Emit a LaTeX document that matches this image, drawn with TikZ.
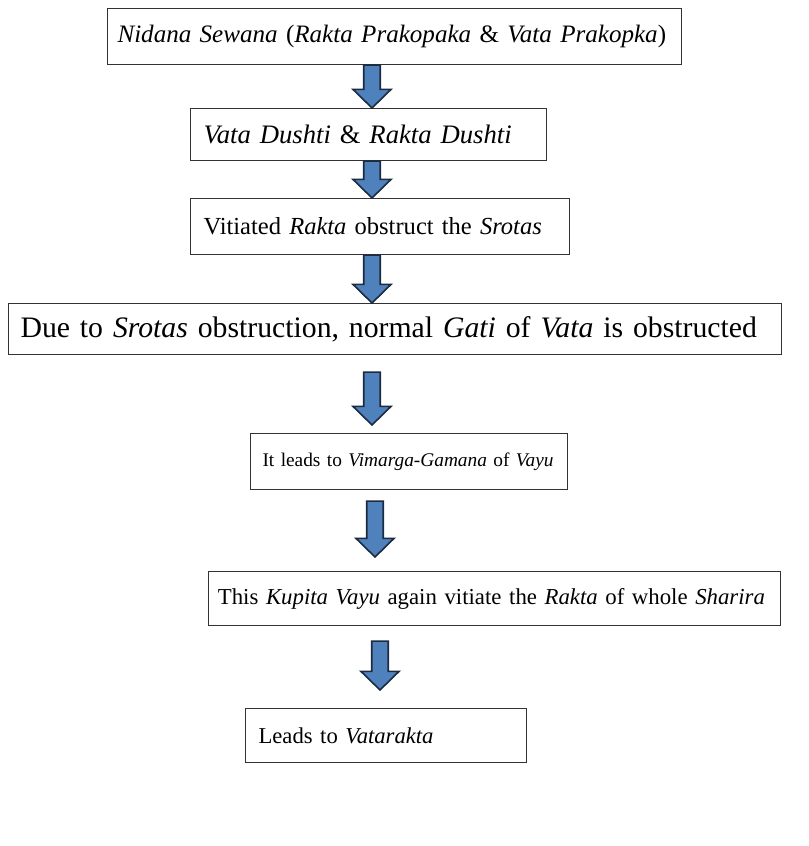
\documentclass[tikz,border=0pt]{standalone}
\usepackage{fontspec}
\setmainfont{Liberation Serif}
\usetikzlibrary{calc}
\definecolor{arrfill}{HTML}{4F81BD}
\definecolor{arrline}{HTML}{1C2B40}
\tikzset{
  stepbox/.style={draw=black!80, line width=0.8pt, anchor=north west, align=left, inner ysep=0pt},
  fs/.style={font=\fontsize{#1}{#1}\selectfont},
  blockarr/.style={fill=arrfill, draw=arrline, line width=1.2pt, line join=miter,
    to path={let \p1=(\tikztostart), \p2=(\tikztotarget) in
      (\x1-6.2pt,\y1) -- (\x1+6.2pt,\y1) -- (\x1+6.2pt,\y2+14pt) -- (\x1+14.3pt,\y2+14pt)
      -- (\x1,\y2) -- (\x1-14.3pt,\y2+14pt) -- (\x1-6.2pt,\y2+14pt) -- cycle}}
}
\begin{document}
\begin{tikzpicture}[x=0.75pt,y=-0.75pt]
  \useasboundingbox (0,0) rectangle (808,846);
  \coordinate (axis) at (372,0);
  \coordinate (axisb) at (375,0);
  \coordinate (axisc) at (380,0);
  \node[stepbox, fs=18.8, inner xsep=7.5pt, text width=415.5pt, minimum height=42pt] (nidana) at (107,8)
    {\textit{Nidana Sewana} (\textit{Rakta Prakopaka} \& \textit{Vata Prakopka})};
  \node[stepbox, fs=20, inner xsep=9.75pt, text width=247.5pt, minimum height=39pt] (dushti) at (190,108)
    {\textit{Vata Dushti} \& \textit{Rakta Dushti}};
  \node[stepbox, fs=18.4, inner xsep=9.75pt, text width=264.75pt, minimum height=42pt] (obstruct) at (190,198)
    {Vitiated \textit{Rakta} obstruct the \textit{Srotas}};
  \node[stepbox, fs=22.3, inner xsep=9pt, text width=561.75pt, minimum height=38.25pt] (gati) at (8,303)
    {Due to \textit{Srotas} obstruction, normal \textit{Gati} of \textit{Vata} is obstructed};
  \node[stepbox, fs=14.5, inner xsep=9pt, text width=219.75pt, minimum height=42pt] (vimarga) at (250,433)
    {It leads to \textit{Vimarga-Gamana} of \textit{Vayu}};
  \node[stepbox, fs=17.1, inner xsep=7pt, text width=415pt, minimum height=40.5pt] (kupita) at (208,571)
    {This \textit{Kupita Vayu} again vitiate the \textit{Rakta} of whole \textit{Sharira}};
  \node[stepbox, fs=17, inner xsep=9.75pt, text width=191.25pt, minimum height=40.5pt] (vatarakta) at (245,708)
    {Leads to \textit{Vatarakta}};
  \draw[blockarr] (nidana.south -| axis) to (dushti.north -| axis);
  \draw[blockarr] (dushti.south -| axis) to (obstruct.north -| axis);
  \draw[blockarr] (obstruct.south -| axis) to (gati.north -| axis);
  \draw[blockarr] ($(gati.south -| axis)+(0,17)$) to ($(vimarga.north -| axis)+(0,-8)$);
  \draw[blockarr] ($(vimarga.south -| axisb)+(0,11)$) to ($(kupita.north -| axisb)+(0,-14)$);
  \draw[blockarr] ($(kupita.south -| axisc)+(0,15)$) to ($(vatarakta.north -| axisc)+(0,-18)$);
\end{tikzpicture}
\end{document}
